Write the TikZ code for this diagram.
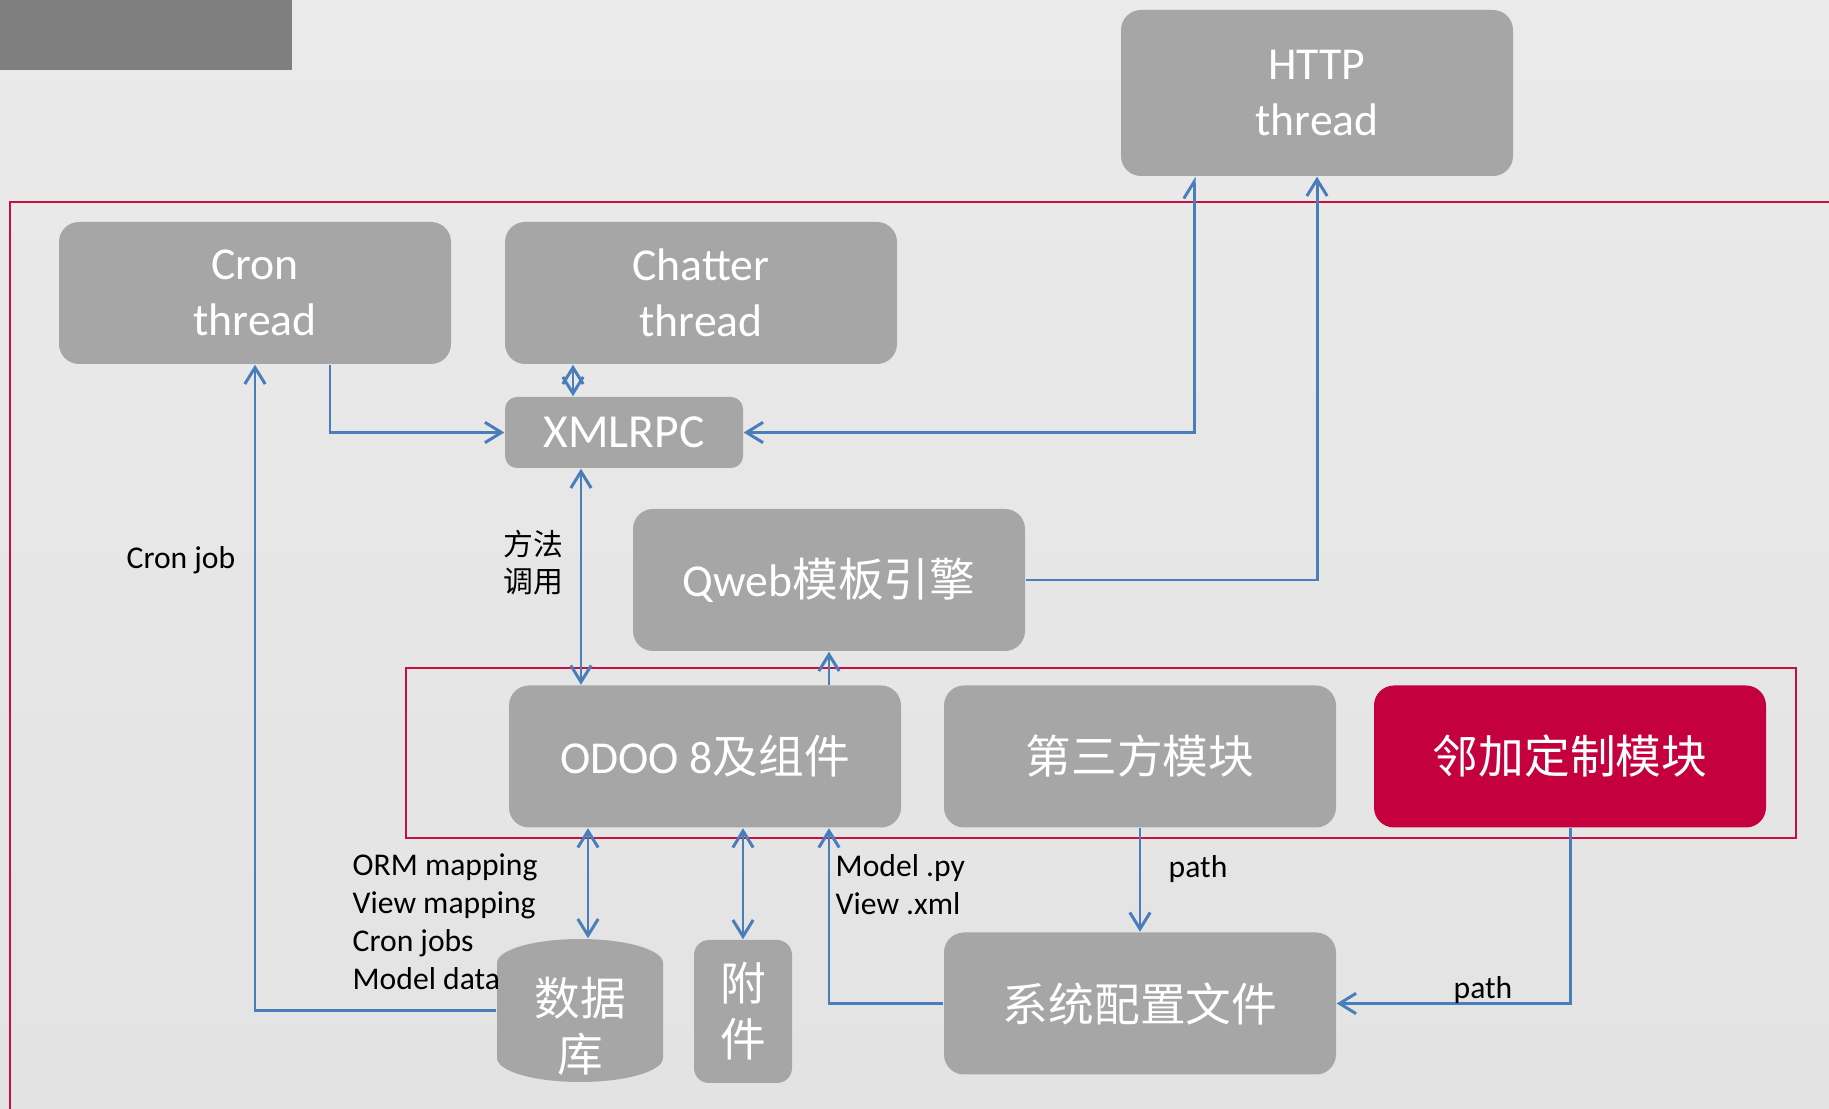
\documentclass[tikz,border=0pt]{standalone}
\usepackage{fontspec}
\setmainfont{Carlito}
\newfontfamily\cjk{Noto Sans CJK SC}
\usetikzlibrary{arrows.meta}
\definecolor{boxgray}{HTML}{A6A6A6}
\definecolor{topgray}{HTML}{7F7F7F}
\definecolor{linkblue}{HTML}{4A7EBB}
\definecolor{framered}{HTML}{C8103F}
\definecolor{customred}{HTML}{C4003F}
\definecolor{bgtop}{HTML}{EAEAEA}
\definecolor{bgmid}{HTML}{F2F2F2}
\definecolor{bgbot}{HTML}{E3E3E3}
\begin{document}
\begin{tikzpicture}[
  box/.style={fill=boxgray, rounded corners=0.2cm, text=white, minimum width=3.92cm, minimum height=1.42cm, align=center, font=\fontsize{13}{16}\selectfont},
  cjkbox/.style={box, font=\cjk\fontsize{13}{16}\selectfont},
  link/.style={draw=linkblue, line width=0.85pt},
  note/.style={font=\fontsize{9}{10.8}\selectfont, align=left, inner sep=0pt},
  >={Straight Barb[length=4.7pt,width=5.8pt]}]
\useasboundingbox (0,0) rectangle (18.29,-11.09);
\shade[top color=bgtop, middle color=bgmid, bottom color=bgbot] (0,0) rectangle (18.29,-11.09);
\fill[topgray] (0,0) rectangle (2.92,-0.70);
\draw[framered, line width=0.6pt] (18.40,-2.02) -- (0.10,-2.02) -- (0.10,-11.20);
\draw[framered, line width=0.6pt] (4.06,-6.68) rectangle (17.96,-8.38);
\node[box, minimum height=1.66cm] (http) at (13.17,-0.93) {HTTP\\thread};
\node[box] (cron) at (2.55,-2.93) {Cron\\thread};
\node[box] (chatter) at (7.01,-2.93) {Chatter\\thread};
\node[box, minimum width=2.38cm, minimum height=0.71cm, rounded corners=0.12cm, font=\fontsize{13.5}{16}\selectfont] (xmlrpc) at (6.24,-4.325) {XMLRPC};
\node[box] (qweb) at (8.29,-5.80) {Qweb{\cjk 模板引擎}};
\node[box] (odoo) at (7.05,-7.565) {ODOO 8{\cjk 及组件}};
\node[cjkbox] (third) at (11.40,-7.565) {第三方模块};
\node[cjkbox, fill=customred] (custom) at (15.70,-7.565) {邻加定制模块};
\node[cjkbox] (config) at (11.40,-10.035) {系统配置文件};
\fill[boxgray] (4.97,-9.63) arc[start angle=180, end angle=0, x radius=0.83, y radius=0.24] -- (6.63,-10.58) arc[start angle=0, end angle=-180, x radius=0.83, y radius=0.24] -- cycle;
\node[cjkbox, fill=none, minimum width=1.66cm, minimum height=1.43cm] (db) at (5.80,-10.105) {\raisebox{-0.16cm}[\height][\depth]{数据}\\\raisebox{-0.16cm}[\height][\depth]{库}};
\node[cjkbox, minimum width=0.98cm, minimum height=1.43cm, rounded corners=0.15cm] (attach) at (7.43,-10.115) {附\\件};
\draw[link,->] ([xshift=0.75cm]cron.south) |- (xmlrpc.west);
\draw[link,<->] ([xshift=-0.51cm]xmlrpc.north) -- ([xshift=-0.51cm]xmlrpc.north |- chatter.south);
\draw[link,{Straight Barb[harpoon,length=4.7pt,width=5.8pt]}->] ([xshift=-1.23cm]http.south) |- (xmlrpc.east);
\draw[link,->] (qweb.east) -| (http.south);
\draw[link,<->] ([xshift=-0.43cm]xmlrpc.south) -- ([xshift=-0.43cm]xmlrpc.south |- odoo.north);
\draw[link,->] (qweb.south |- odoo.north) -- (qweb.south);
\draw[link,<->] ([xshift=0.08cm]db.north |- odoo.south) -- ([xshift=0.08cm]db.north);
\draw[link,<->] (attach.north |- odoo.south) -- (attach.north);
\draw[link,->] (config.west) -| (qweb.south |- odoo.south);
\draw[link,->] (db.west) -| (cron.south);
\draw[link,->] (third.south) -- (config.north);
\draw[link,->] (custom.south) |- (config.east);
\node[note] (cronjob) at (1.81,-5.60) {Cron job};
\node[note, font=\cjk\fontsize{8.5}{10.5}\selectfont] (method) at (5.33,-5.63) {方法\\调用};
\node[note, anchor=west] (mapping) at (3.52,-9.22) {ORM mapping\\View mapping\\Cron jobs\\Model data};
\node[note, anchor=west] (modelfile) at (8.35,-8.85) {Model .py\\View .xml};
\node[note, anchor=west] (path1) at (11.68,-8.69) {path};
\node[note] (path2) at (14.83,-9.90) {path};
\end{tikzpicture}
\end{document}
